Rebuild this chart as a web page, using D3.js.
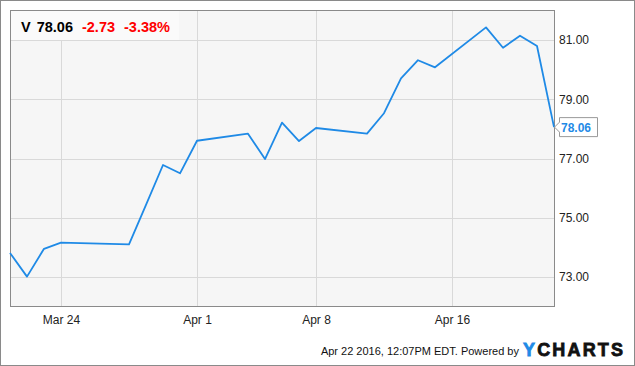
<!DOCTYPE html>
<html>
<head>
<meta charset="utf-8">
<script src="https://cdn.jsdelivr.net/npm/d3@7/dist/d3.min.js"></script>
<style>
  html, body { margin: 0; padding: 0; background: #fff; }
  svg { display: block; font-family: "Liberation Sans", Arial, sans-serif; }
</style>
</head>
<body>
<svg id="chart" width="635" height="366"></svg>
<script>
// V daily closes, Mar 21 - Apr 22 2016
const dates = [
  "2016-03-21", "2016-03-22", "2016-03-23", "2016-03-24", "2016-03-28",
  "2016-03-29", "2016-03-30", "2016-03-31", "2016-04-01", "2016-04-04",
  "2016-04-05", "2016-04-06", "2016-04-07", "2016-04-08", "2016-04-11",
  "2016-04-12", "2016-04-13", "2016-04-14", "2016-04-15", "2016-04-18",
  "2016-04-19", "2016-04-20", "2016-04-21", "2016-04-22"
];
const prices = [
  73.81, 73.01, 73.95, 74.16, 74.10,
  75.43, 76.78, 76.50, 77.60, 77.84,
  76.98, 78.21, 77.59, 78.03, 77.84,
  78.53, 79.71, 80.32, 80.08, 81.43,
  80.74, 81.15, 80.80, 78.06
];
const xTicks = ["2016-03-24", "2016-04-01", "2016-04-08", "2016-04-16"];
const yTicks = [73, 75, 77, 79, 81];
const header = { ticker: "V", last: "78.06", change: "-2.73", pct: "-3.38%" };

const parse = d3.utcParse("%Y-%m-%d");
const data = dates.map((d, i) => ({ date: parse(d), value: prices[i] }));

const W = 635, H = 366;
const plot = { left: 10, top: 10, right: 554, bottom: 306 };

const svg = d3.select("#chart");

// outer frame
svg.append("rect")
  .attr("x", 0.5).attr("y", 0.5).attr("width", W - 1).attr("height", H - 1)
  .attr("fill", "#fff").attr("stroke", "#8a8a8a");

const x = d3.scaleUtc()
  .domain([parse("2016-03-21"), parse("2016-04-22")])
  .range([plot.left, plot.right]);
const y = d3.scaleLinear()
  .domain([72, 82])
  .range([plot.bottom + 0.5, plot.top + 0.5]);

svg.append("rect")
  .attr("x", plot.left).attr("y", plot.top)
  .attr("width", plot.right - plot.left).attr("height", plot.bottom - plot.top)
  .attr("fill", "#f6f6f6");

// grid
svg.append("g").selectAll("line")
  .data(yTicks)
  .join("line")
  .attr("x1", plot.left).attr("x2", plot.right)
  .attr("y1", (d) => Math.round(y(d)) + 0.5).attr("y2", (d) => Math.round(y(d)) + 0.5)
  .attr("stroke", "#d9d9d9");

svg.append("g").selectAll("line")
  .data(xTicks.map(parse))
  .join("line")
  .attr("x1", (d) => Math.round(x(d)) + 0.5).attr("x2", (d) => Math.round(x(d)) + 0.5)
  .attr("y1", plot.top).attr("y2", plot.bottom)
  .attr("stroke", "#d9d9d9");

// plot border
svg.append("rect")
  .attr("x", plot.left + 0.5).attr("y", plot.top + 0.5)
  .attr("width", plot.right - plot.left).attr("height", plot.bottom - plot.top)
  .attr("fill", "none").attr("stroke", "#8a8a8a");

// axes
const xAxis = svg.append("g")
  .attr("transform", `translate(0,${plot.bottom})`)
  .call(d3.axisBottom(x).tickValues(xTicks.map(parse))
    .tickFormat(d3.utcFormat("%b %-d")).tickSize(0).tickPadding(9));
xAxis.select(".domain").remove();
xAxis.selectAll("text").attr("font-size", 12).attr("fill", "#222")
  .attr("font-family", "Liberation Sans, Arial, sans-serif");

const yAxis = svg.append("g")
  .attr("transform", `translate(${plot.right},0)`)
  .call(d3.axisRight(y).tickValues(yTicks).tickFormat(d3.format(".2f"))
    .tickSize(0).tickPadding(5));
yAxis.select(".domain").remove();
yAxis.selectAll("text").attr("font-size", 12).attr("fill", "#222")
  .attr("font-family", "Liberation Sans, Arial, sans-serif");

// price line
svg.append("path")
  .datum(data)
  .attr("fill", "none")
  .attr("stroke", "#1f8ae6")
  .attr("stroke-width", 1.8)
  .attr("stroke-linejoin", "round")
  .attr("d", d3.line().x((d) => x(d.date)).y((d) => y(d.value)));

// last value flag
const last = data[data.length - 1];
const ly = y(last.value);
const flag = svg.append("g").attr("transform", `translate(${plot.right},${ly})`);
flag.append("path")
  .attr("d", "M0.5,0 L5.5,-5 L5.5,-9.5 L43.5,-9.5 L43.5,9.5 L5.5,9.5 L5.5,5 Z")
  .attr("fill", "#fff").attr("stroke", "#999");
flag.append("text")
  .attr("x", 7).attr("y", 4.5)
  .attr("font-size", 12).attr("font-weight", "bold").attr("fill", "#1f8ae6")
  .text(d3.format(".2f")(last.value));

// header box
svg.append("rect")
  .attr("x", plot.left + 1).attr("y", plot.top + 1)
  .attr("width", 168).attr("height", 29)
  .attr("fill", "#fafafa");
const ht = svg.append("text").attr("x", 21).attr("y", 32)
  .attr("font-size", 14.5).attr("font-weight", "bold");
ht.append("tspan").attr("fill", "#000").text(header.ticker);
ht.append("tspan").attr("dx", 6).attr("fill", "#000").text(header.last);
ht.append("tspan").attr("dx", 9).attr("fill", "#f00").text(header.change);
ht.append("tspan").attr("dx", 9).attr("fill", "#f00").text(header.pct);

// footer
svg.append("text")
  .attr("x", 519).attr("y", 355)
  .attr("text-anchor", "end")
  .attr("font-size", 11).attr("fill", "#111")
  .text("Apr 22 2016, 12:07PM EDT.  Powered by");
const logo = svg.append("text")
  .attr("x", 523).attr("y", 356)
  .attr("font-size", 18).attr("font-weight", "bold")
  .attr("stroke-width", 0.8)
  .attr("textLength", 100).attr("lengthAdjust", "spacing");
logo.append("tspan").attr("fill", "#1f8ae6").attr("stroke", "#1f8ae6").text("Y");
logo.append("tspan").attr("fill", "#111").attr("stroke", "#111").text("CHARTS");
</script>
</body>
</html>
